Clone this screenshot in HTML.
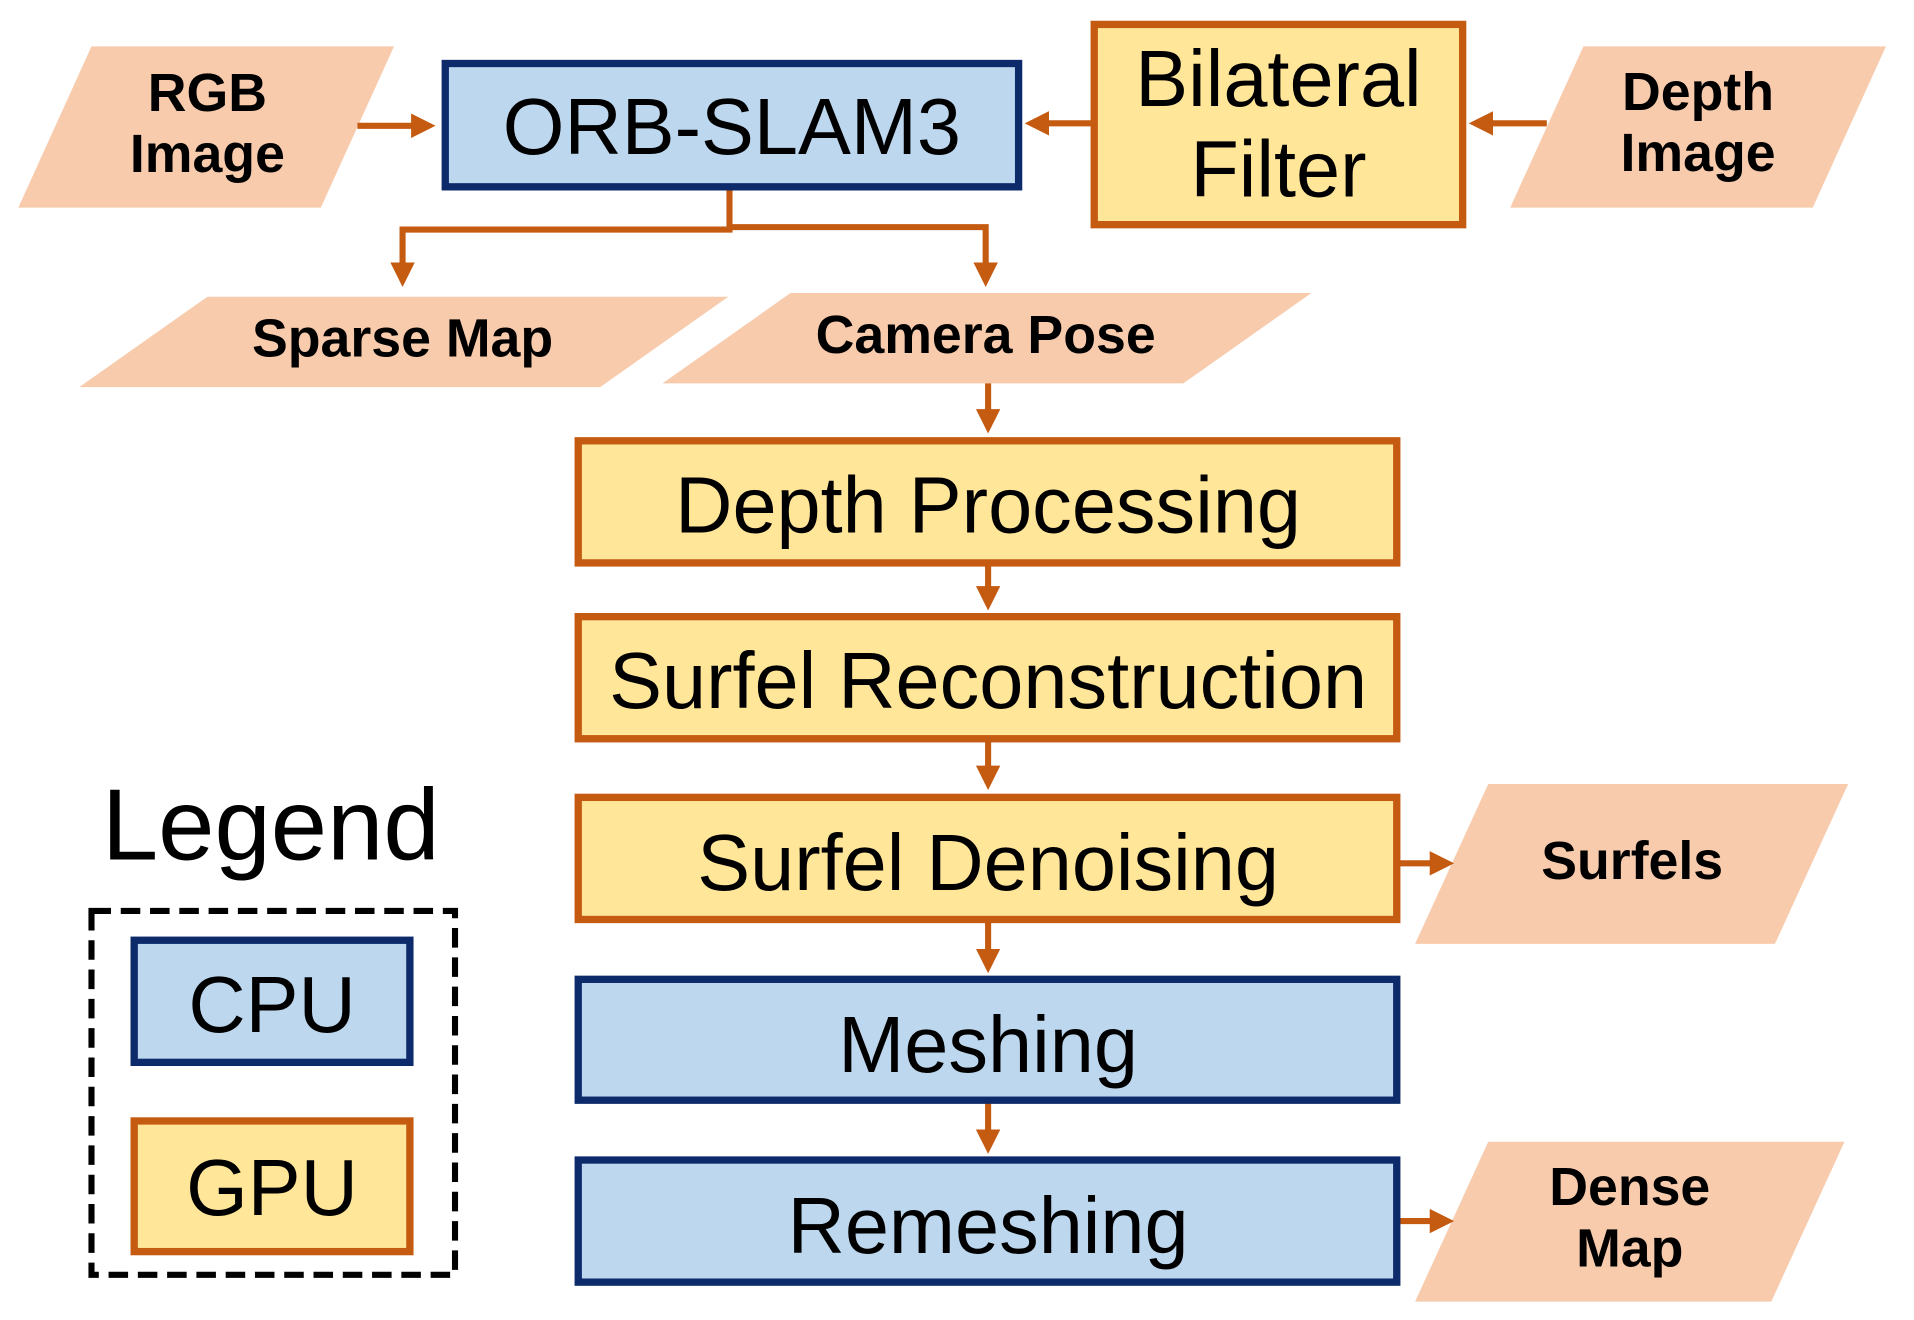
<!DOCTYPE html>
<html><head><style>html,body{margin:0;padding:0;background:#fff}svg{display:block}</style></head>
<body>
<svg xmlns="http://www.w3.org/2000/svg" width="1914" height="1320" viewBox="0 0 1569 1081" preserveAspectRatio="none">
<defs><marker id="a" markerWidth="4" markerHeight="4" refX="3" refY="2" orient="auto" markerUnits="strokeWidth"><path d="M0,0 L4,2 L0,4 z" fill="#c55a11"/></marker></defs>
<g fill="#f8cbad">
<polygon points="15,170 75,38 323,38 263,170"/>
<polygon points="1238,170 1298,38 1546,38 1486,170"/>
<polygon points="65,317 170,243 597,243 492,317"/>
<polygon points="543,314 648,240 1075,240 970,314"/>
<polygon points="1160,773 1220,642 1515,642 1455,773"/>
<polygon points="1160,1066 1220,935 1512,935 1452,1066"/>
</g>
<g stroke="#c55a11" stroke-width="5" fill="none" marker-end="url(#a)">
<line x1="293" y1="103" x2="352" y2="103"/>
<line x1="897" y1="101" x2="845" y2="101"/>
<line x1="1268" y1="101" x2="1209" y2="101"/>
<line x1="810" y1="314" x2="810" y2="350"/>
<line x1="810" y1="461" x2="810" y2="495"/>
<line x1="810" y1="605" x2="810" y2="642"/>
<line x1="810" y1="753" x2="810" y2="792"/>
<line x1="810" y1="901" x2="810" y2="940"/>
<line x1="1145" y1="707" x2="1187" y2="707"/>
<line x1="1145" y1="1000" x2="1187" y2="1000"/>
<polyline points="598,153 598,188 330,188 330,230" />
<polyline points="598,186 808,186 808,230" />
</g>
<g stroke-width="6">
<rect x="365" y="52" width="470" height="101" fill="#bdd7ee" stroke="#0d2a6b"/>
<rect x="897" y="20" width="302" height="164" fill="#ffe699" stroke="#c55a11"/>
<rect x="474" y="361" width="671" height="100" fill="#ffe699" stroke="#c55a11"/>
<rect x="474" y="505" width="671" height="100" fill="#ffe699" stroke="#c55a11"/>
<rect x="474" y="653" width="671" height="100" fill="#ffe699" stroke="#c55a11"/>
<rect x="474" y="802" width="671" height="99" fill="#bdd7ee" stroke="#0d2a6b"/>
<rect x="474" y="950" width="671" height="100" fill="#bdd7ee" stroke="#0d2a6b"/>
<rect x="110" y="770" width="226" height="100" fill="#bdd7ee" stroke="#0d2a6b"/>
<rect x="110" y="918" width="226" height="107" fill="#ffe699" stroke="#c55a11"/>
</g>
<rect x="75" y="746" width="298" height="298" fill="none" stroke="#000" stroke-width="5" stroke-dasharray="16 8"/>
<g font-family="Liberation Sans, sans-serif" fill="#000" text-anchor="middle">
<g font-size="65">
<text x="600" y="126">ORB-SLAM3</text>
<text x="1048" y="87">Bilateral</text>
<text x="1048" y="161">Filter</text>
<text x="810" y="436">Depth Processing</text>
<text x="810" y="580">Surfel Reconstruction</text>
<text x="810" y="729">Surfel Denoising</text>
<text x="810" y="878">Meshing</text>
<text x="810" y="1026">Remeshing</text>
<text x="223" y="845">CPU</text>
<text x="223" y="995">GPU</text>
</g>
<text x="222" y="704" font-size="83">Legend</text>
<g font-size="44" font-weight="bold">
<text x="170" y="91">RGB</text>
<text x="170" y="141">Image</text>
<text x="1392" y="90">Depth</text>
<text x="1392" y="140">Image</text>
<text x="330" y="292">Sparse Map</text>
<text x="808" y="289">Camera Pose</text>
<text x="1338" y="720">Surfels</text>
<text x="1336" y="987">Dense</text>
<text x="1336" y="1037">Map</text>
</g>
</g>
</svg>
</body></html>
